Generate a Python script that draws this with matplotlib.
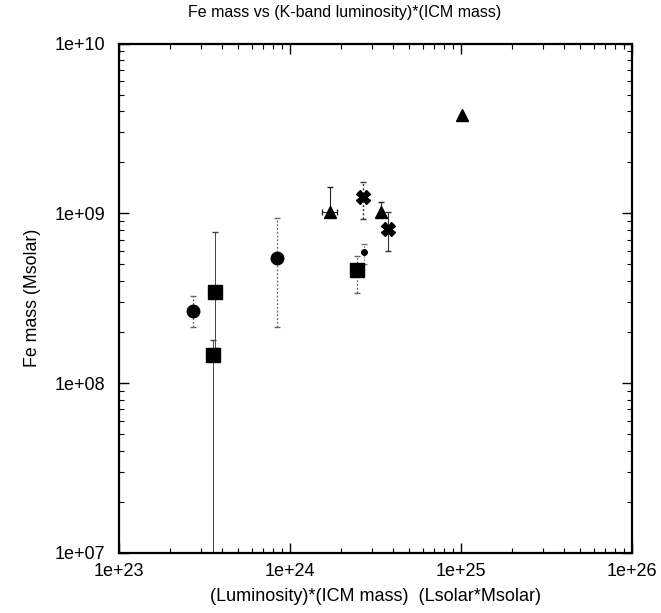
import numpy as np
import matplotlib
matplotlib.use("Agg")
import matplotlib.pyplot as plt
from matplotlib.ticker import FixedLocator, FixedFormatter, LogLocator, NullFormatter

plt.rcParams['font.family'] = ['Liberation Sans', 'DejaVu Sans']

# data: (x = luminosity*ICM mass, y = Fe mass, yerr low/high)
circ_x = [2.70e23, 8.44e23]
circ_y = [2.67e8, 5.43e8]
circ_lo = [2.14e8, 2.14e8]
circ_hi = [3.26e8, 9.38e8]

sq_x = [3.66e23, 3.56e23, 2.47e24]
sq_y = [3.45e8, 1.46e8, 4.64e8]
sq_lo = [1.61e8, 1.0e6, 3.38e8]
sq_hi = [7.76e8, 1.80e8, 5.6e8]

tri_x = [1.71e24, 3.40e24, 1.01e25]
tri_y = [1.02e9, 1.02e9, 3.79e9]
tri_lo = [1.02e9, 1.02e9, 3.79e9]
tri_hi = [1.42e9, 1.17e9, 3.79e9]
tri_xlo = [1.53e24, 3.40e24, 1.01e25]
tri_xhi = [1.89e24, 3.40e24, 1.01e25]

x_x = [2.67e24, 3.74e24]
x_y = [1.25e9, 8.09e8]
x_lo = [9.22e8, 6.03e8]
x_hi = [1.53e9, 1.02e9]

dot_x = [2.71e24]
dot_y = [5.92e8]
dot_lo = [5.0e8]
dot_hi = [6.6e8]

xticks = [1e23, 1e24, 1e25, 1e26]
xticklabels = ['1e+23', '1e+24', '1e+25', '1e+26']
yticks = [1e7, 1e8, 1e9, 1e10]
yticklabels = ['1e+07', '1e+08', '1e+09', '1e+10']

fig = plt.figure(figsize=(6.61, 6.13), dpi=100)
ax = fig.add_axes([0.180, 0.098, 0.776, 0.831])
ax.set_xscale('log')
ax.set_yscale('log')
ax.set_xlim(1e23, 1e26)
ax.set_ylim(1e7, 1e10)

def yerr(y, lo, hi):
    y = np.array(y); return [y - np.array(lo), np.array(hi) - y]

def dotted(eb):
    for c in eb[2]:
        c.set_linestyle((0, (1.5, 1.5)))

# error bars
e1 = ax.errorbar(circ_x, circ_y, yerr=yerr(circ_y, circ_lo, circ_hi), fmt='none',
                 ecolor='#666666', elinewidth=0.9, capsize=2)
dotted(e1)
ax.errorbar(sq_x[:2], sq_y[:2], yerr=yerr(sq_y[:2], sq_lo[:2], sq_hi[:2]), fmt='none',
            ecolor='#444444', elinewidth=0.7, capsize=2)
e3 = ax.errorbar(sq_x[2:], sq_y[2:], yerr=yerr(sq_y[2:], sq_lo[2:], sq_hi[2:]), fmt='none',
                 ecolor='#666666', elinewidth=0.9, capsize=2)
dotted(e3)
ax.errorbar(tri_x, tri_y, yerr=yerr(tri_y, tri_lo, tri_hi),
            xerr=[np.array(tri_x) - np.array(tri_xlo), np.array(tri_xhi) - np.array(tri_x)],
            fmt='none', ecolor='#222222', elinewidth=0.8, capsize=2)
e4 = ax.errorbar(x_x[:1], x_y[:1], yerr=yerr(x_y[:1], x_lo[:1], x_hi[:1]), fmt='none',
                 ecolor='#333333', elinewidth=1.0, capsize=2)
dotted(e4)
ax.errorbar(x_x[1:], x_y[1:], yerr=yerr(x_y[1:], x_lo[1:], x_hi[1:]), fmt='none',
            ecolor='#333333', elinewidth=0.8, capsize=2)
e5 = ax.errorbar(dot_x, dot_y, yerr=yerr(dot_y, dot_lo, dot_hi), fmt='none',
                 ecolor='#777777', elinewidth=0.8, capsize=2)
dotted(e5)

# markers
ax.plot(circ_x, circ_y, 'o', color='black', markersize=9, linestyle='none')
ax.plot(sq_x, sq_y, 's', color='black', markersize=10, linestyle='none')
ax.plot(tri_x, tri_y, '^', color='black', markersize=8.5, linestyle='none')
ax.plot(x_x, x_y, 'X', color='black', markersize=10, linestyle='none')
ax.plot(dot_x, dot_y, 'o', color='black', markersize=4, linestyle='none')

ax.xaxis.set_major_locator(FixedLocator(xticks))
ax.xaxis.set_major_formatter(FixedFormatter(xticklabels))
ax.yaxis.set_major_locator(FixedLocator(yticks))
ax.yaxis.set_major_formatter(FixedFormatter(yticklabels))
ax.xaxis.set_minor_locator(LogLocator(base=10, subs=np.arange(2, 10), numticks=20))
ax.yaxis.set_minor_locator(LogLocator(base=10, subs=np.arange(2, 10), numticks=20))
ax.xaxis.set_minor_formatter(NullFormatter())
ax.yaxis.set_minor_formatter(NullFormatter())
ax.tick_params(which='both', direction='in', top=True, right=True, labelsize=13, colors='black')
ax.tick_params(which='major', length=7, width=1)
ax.tick_params(which='minor', length=3.5, width=0.8)
ax.tick_params(axis='x', pad=7)
ax.tick_params(axis='y', pad=10)
for s in ax.spines.values():
    s.set_linewidth(1.6)

fig.text(0.522, 0.980, 'Fe mass vs (K-band luminosity)*(ICM mass)', fontsize=11.5,
         ha='center', va='center')
ax.set_xlabel('(Luminosity)*(ICM mass)  (Lsolar*Msolar)', fontsize=13, labelpad=6)
ax.set_ylabel('Fe mass (Msolar)', fontsize=12.8)
ax.yaxis.set_label_coords(-0.152, 0.5)

fig.savefig('out.png', dpi=100)
